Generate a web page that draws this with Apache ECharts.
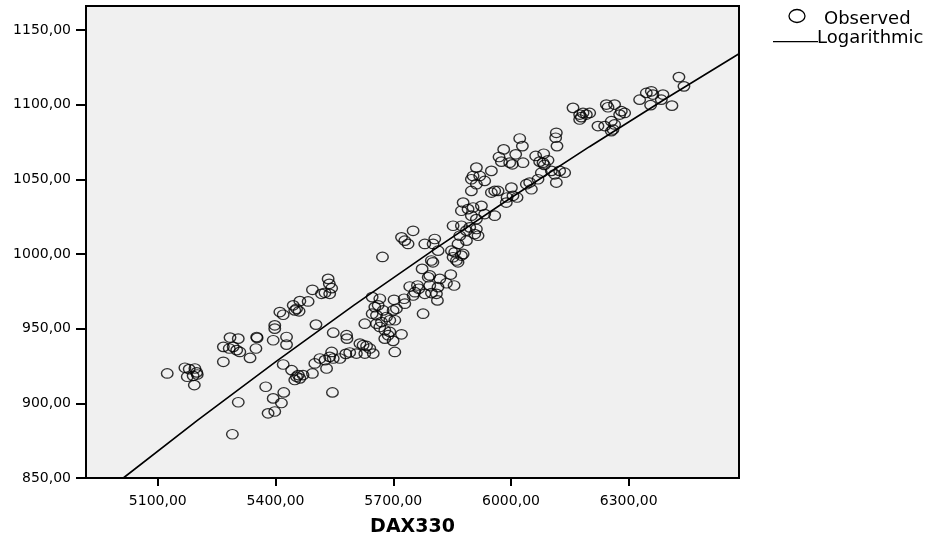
<!DOCTYPE html>
<html>
<head>
<meta charset="utf-8">
<script src="https://cdn.jsdelivr.net/npm/echarts@6/dist/echarts.min.js"></script>
<style>
html,body{margin:0;padding:0;background:#fff;}
#chart{width:938px;height:545px;}
</style>
</head>
<body>
<div id="chart"></div>
<script>
// ---- data ----
var xTicks = [5100, 5400, 5700, 6000, 6300];
var yTicks = [850, 900, 950, 1000, 1050, 1100, 1150];

// Observed points [DAX330, value]
var observed = [
 [5124,920],[5169,923.8],[5180,922.9],[5194.5,923.3],[5199,920.7],[5175,917.8],[5190,918.4],[5200.5,919.3],[5193,912.2],
 [5267,927.8],[5267,937.8],[5284,944],[5305,943.3],[5292,937.8],[5301,935.6],[5309,934.4],[5282,936.7],[5335,930.4],
 [5352,944.4],[5353,943.8],[5350,936.7],[5394,942.2],[5398,952.2],[5398,950],[5428,944.4],[5428,939.3],[5411,961.1],
 [5419.5,959.3],[5445,965.6],[5453.5,963.3],[5462,968.4],[5449,962.2],[5460,961.6],[5483,968.2],[5494,976],[5517,973.3],
 [5526,974],[5538,973.3],[5534,983.3],[5537,980],[5543,977.1],[5503,952.7],
 [5305,900.7],[5290,879.3],[5375,911.1],[5394,903.3],[5421,907.3],[5415,900.2],[5381,893.3],[5398,894.5],[5419.5,926],
 [5441,922.2],[5453.5,917.8],[5462,916.7],[5458,918.9],[5470,918.9],[5449,915.6],[5494,920],[5500,926.7],[5513,930],
 [5526,928.9],[5530,923.3],[5538,931.1],[5547,930],[5543,934.4],[5564,930],[5581,945.6],[5582,943.3],[5579,933.1],
 [5589,934],[5606,933.3],[5615,940],[5623,938.9],[5632,938.4],[5627.5,933.3],[5649,933.3],[5547,947.3],[5545,907.3],
 [5672.5,998],[5721,1011.1],[5729.3,1008.9],[5737.7,1006.7],[5750.5,1015.5],[5780.3,1006.7],
 [5797,995.6],[5801,994.4],[5773.5,990],[5793,985.6],[5789,984.4],[5818.5,983.3],[5846.5,986.2],[5835.5,980.4],
 [5855,978.9],[5793,978.9],[5814,977.8],[5742,978.2],[5761.6,978.9],[5765,976.7],[5755,974.4],[5750.6,972.2],
 [5780.3,973.3],[5810,973.3],[5812.5,968.9],[5797.3,973.8],[5727.7,970],[5729.4,966.7],[5702,969.3],[5708,963.3],
 [5699.6,962.2],[5646.2,971.1],[5665.7,970],[5661.5,965.6],[5653,964.4],[5646.2,960],[5657.2,958.9],[5674.2,962.2],
 [5682.7,957.8],[5691.2,955.6],[5703.9,955.6],[5670,954.4],[5657.2,953.3],[5665.7,951.1],[5678.4,948.9],[5691.2,947.8],
 [5686.9,945.6],[5678.4,943.3],[5699.6,941.8],[5720.9,946.2],[5703.9,934.4],[5640.2,936.7],[5627.5,953.3],[5776,960],
 [5911.8,1057.8],[5903.3,1052.2],[5899,1050],[5933,1048.9],[5950,1055.6],[5911.8,1046.7],[5899,1042.2],[5920.3,1052.2],
 [6005,1038.9],[5990,1037.8],[6015.4,1037.8],[5988,1034.4],
 [5878,1034.4],[5873.6,1028.9],[5890.6,1030],[5903.3,1031.1],[5924.6,1032.2],[5899,1025.6],[5911.8,1023.3],[5933,1026.7],
 [5958.5,1025.6],[5852.4,1018.9],[5873.6,1018.9],[5894.9,1017.8],[5886.4,1015.6],[5911.8,1016.7],[5907.6,1013.3],
 [5916,1012.2],[5869.4,1012.2],[5865,1006.7],[5886.4,1008.9],[5848.2,1002.2],[5856.7,1001.1],[5852.4,997.8],[5861,995.6],
 [5873.6,998.9],[5878,1000],[5865,994.4],[5805.7,1010],[5801.5,1006.7],[5814.2,1002.2],
 [6022.2,1077.3],[6029,1072.2],[6115.5,1081.1],[6113.8,1077.8],[6117.2,1072.2],[5981.4,1070],[5969.5,1064.9],
 [5975.5,1061.8],[5996.7,1061.1],[6003.5,1060],[6012,1066.7],[6030.6,1061.1],[6062.9,1065.6],[6083.3,1067.1],
 [6081.6,1061.1],[6094.3,1062.7],[6073.1,1061.8],[6085,1059.6],[6077.3,1054.4],[6102.8,1055.6],[6111.3,1053.3],
 [6124,1055.6],[6136.7,1054.4],[6115.5,1047.8],[6068.8,1050],[6047.6,1047.8],[6039.1,1046.7],[6051.9,1043.3],
 [6001,1044.4],[5958.5,1042.2],[5950,1041.1],[5967,1042.2],
 [6158,1097.8],[6175,1093.3],[6183.5,1094.4],[6192,1093.3],[6200.5,1094.4],[6175,1090],[6179.2,1091.6],
 [6242.9,1100],[6247.2,1098.2],[6264,1100],[6281.1,1095.6],[6289.6,1094.4],[6276.9,1093.3],
 [6221.6,1085.6],[6238.7,1085.6],[6255.6,1088.9],[6264,1086.7],[6259.9,1083.3],[6255.6,1082.2],
 [6327.8,1103.3],[6344.8,1107.8],[6357.5,1108.9],[6361.7,1106.7],[6355.8,1099.6],
 [6428,1118.4],[6440.7,1112.2],[6387.2,1106.7],[6383,1103.3],[6410.1,1099.3]
];

// Logarithmic fit line
var fitX = [5012, 5200, 5400, 5600, 5800, 6000, 6200, 6400, 6581];
var fitY = [850, 888.4, 927.7, 965.7, 1002.2, 1037.6, 1071.8, 1104.9, 1134];

function fmt(v){ return v.toFixed(2).replace('.', ','); }

var chart = echarts.init(document.getElementById('chart'), null, {renderer:'canvas'});
var FONT = '"DejaVu Sans", Arial, sans-serif';

chart.setOption({
  animation: false,
  backgroundColor: '#ffffff',
  grid: {
    left: 86, top: 6, right: 199, bottom: 67,
    show: true, backgroundColor: '#f0f0f0', borderColor: '#000', borderWidth: 2,
    containLabel: false
  },
  xAxis: {
    type: 'value', min: 4917, max: 6581,
    name: 'DAX330', nameLocation: 'middle', nameGap: 40,
    nameTextStyle: {fontFamily: FONT, fontSize: 19, fontWeight: 'bold', color: '#000'},
    axisLine: {show: true, lineStyle: {color: '#000', width: 2}},
    axisTick: {show: true, length: 8, inside: false, lineStyle: {color: '#000', width: 2}, customValues: xTicks},
    axisLabel: {customValues: xTicks, formatter: fmt, margin: 16, fontFamily: FONT, fontSize: 14, color: '#000'},
    splitLine: {show: false}
  },
  yAxis: {
    type: 'value', min: 850, max: 1166,
    axisLine: {show: true, lineStyle: {color: '#000', width: 2}},
    axisTick: {show: true, length: 10, inside: false, lineStyle: {color: '#000', width: 2}, customValues: yTicks},
    axisLabel: {customValues: yTicks, formatter: fmt, margin: 15, fontFamily: FONT, fontSize: 14, color: '#000'},
    splitLine: {show: false}
  },
  series: [
    {
      name: 'Observed', type: 'scatter', data: observed,
      symbol: 'circle', symbolSize: [11.5, 9.5],
      itemStyle: {color: 'rgba(0,0,0,0)', borderColor: '#000', borderWidth: 1.3},
      emphasis: {disabled: true}, z: 3
    },
    {
      name: 'Logarithmic', type: 'line',
      data: fitX.map(function(x, i){ return [x, fitY[i]]; }),
      showSymbol: false, smooth: false, clip: true,
      lineStyle: {color: '#000', width: 1.6},
      emphasis: {disabled: true}, z: 4
    }
  ],
  graphic: [
    {type: 'ellipse', shape: {cx: 797, cy: 16, rx: 8, ry: 6.5}, style: {fill: 'none', stroke: '#000', lineWidth: 1.3}},
    {type: 'text', x: 824, y: 19, style: {text: 'Observed', fontFamily: FONT, fontSize: 18, fill: '#000', verticalAlign: 'middle', align: 'left'}},
    {type: 'line', shape: {x1: 773, y1: 41.7, x2: 818, y2: 41.7}, style: {stroke: '#000', lineWidth: 1.3}},
    {type: 'text', x: 817, y: 38.5, style: {text: 'Logarithmic', fontFamily: FONT, fontSize: 18, fill: '#000', verticalAlign: 'middle', align: 'left'}}
  ]
});
</script>
</body>
</html>
